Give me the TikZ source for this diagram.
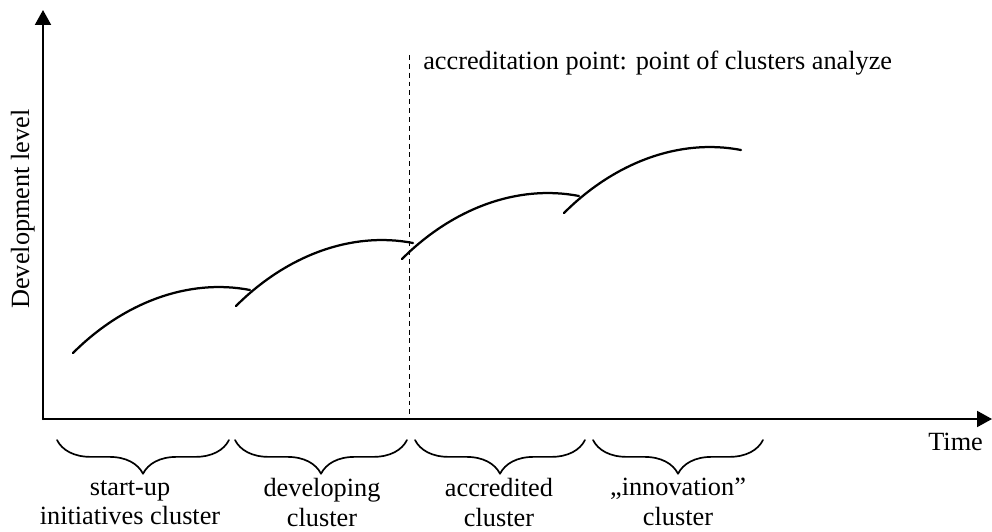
\documentclass[tikz,border=0pt]{standalone}
\usepackage{fontspec}
\setmainfont{Liberation Serif}
\usepackage{tikz}
\usetikzlibrary{arrows.meta,decorations.pathreplacing}
\tikzset{
  every picture/.append style={line cap=round,line join=round},
  dev axis/.style={line width=1.5pt,-{Triangle[length=10.6pt,width=11.3pt]}},
  dev arc/.style={line width=1.6pt},
  dev mark/.style={line width=0.7pt,dash pattern=on 3.5pt off 2.8pt,line cap=butt},
  dev brace/.style={line width=1.2pt,decorate,decoration={brace,amplitude=24pt,mirror}},
  dev label/.style={inner sep=0pt,align=center,anchor=north},
  dev note/.style={inner sep=0pt}
}

\begin{document}
\begin{tikzpicture}[x=0.025cm,y=-0.025cm,
  font=\fontsize{18.7pt}{21pt}\selectfont]
\useasboundingbox (0,0) rectangle (992,532);
% axes
\coordinate (origin) at (43,419);
\coordinate (ytop) at (43,10);
\coordinate (xend) at (992,419);
\draw[dev axis] (origin) -- (ytop);
\draw[dev axis] (origin) -- (xend);
\node[dev note,rotate=90,anchor=base] (ylab) at (29,209) {Development level};
\node[dev note,anchor=base west] (xlab) at (928,450) {Time};
% accreditation point
\coordinate (acctop) at (409,55);
\coordinate (accbot) at (409,419);
\draw[dev mark] (acctop) -- (accbot);
\node[dev note,anchor=base west] (accnote) at (423,69)
  {accreditation point: point of clusters analyze};
% growth curves, one per stage
\foreach \x/\y in {73/353,236/306,402/259,564/213}
  \draw[dev arc,shift={(\x,\y)}] (0,0) .. controls (50,-50) and (115,-75) .. (177,-63);
% stages
\foreach \xl/\xr in {57/229,235/407,415/585,593/763}
  \draw[dev brace] (\xl,440) -- (\xr,440);
\node[dev label] (startup) at (130,480) {start-up\\initiatives cluster};
\node[dev label] (developing) at (322,478) {developing\\cluster};
\node[dev label] (accredited) at (499,478) {accredited\\cluster};
\node[dev label] (innovation) at (678,478) {„innovation”\\cluster};
\end{tikzpicture}
\end{document}
